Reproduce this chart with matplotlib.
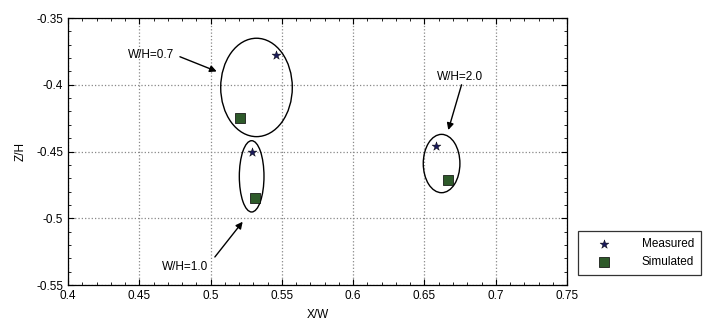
import matplotlib
matplotlib.use("Agg")
import matplotlib.pyplot as plt
from matplotlib.patches import Ellipse
from matplotlib.ticker import MultipleLocator

plt.rcParams['font.family'] = ['Liberation Sans', 'DejaVu Sans']

# Data
ratios = ["W/H=0.7", "W/H=1.0", "W/H=2.0"]
measured_x = [0.546, 0.529, 0.658]
measured_z = [-0.378, -0.450, -0.4456]
simulated_x = [0.5206, 0.531, 0.6667]
simulated_z = [-0.425, -0.4846, -0.4713]

ellipse_cx = [0.5322, 0.5288, 0.662]
ellipse_cz = [-0.402, -0.4686, -0.459]
ellipse_w = [0.0502, 0.0173, 0.0257]
ellipse_h = [0.0737, 0.0534, 0.0437]

label_x = [0.4582, 0.4824, 0.6749]
label_z = [-0.378, -0.5363, -0.394]
arrow_start_x = [0.4785, 0.503, 0.676]
arrow_start_z = [-0.379, -0.529, -0.400]
arrow_tip_x = [0.5043, 0.5225, 0.6667]
arrow_tip_z = [-0.390, -0.5026, -0.4339]

xticks = [0.4, 0.45, 0.5, 0.55, 0.6, 0.65, 0.7, 0.75]
yticks = [-0.55, -0.5, -0.45, -0.4, -0.35]
xtick_labels = ["0.4", "0.45", "0.5", "0.55", "0.6", "0.65", "0.7", "0.75"]
ytick_labels = ["-0.55", "-0.5", "-0.45", "-0.4", "-0.35"]

fig = plt.figure(figsize=(7.15, 3.23), dpi=100)
ax = fig.add_axes([0.0951, 0.1176, 0.698, 0.8266])

ax.set_xlim(0.4, 0.75)
ax.set_ylim(-0.55, -0.35)
ax.set_xticks(xticks)
ax.set_xticklabels(xtick_labels)
ax.set_yticks(yticks)
ax.set_yticklabels(ytick_labels)
ax.xaxis.set_minor_locator(MultipleLocator(0.01))
ax.yaxis.set_minor_locator(MultipleLocator(0.01))
ax.tick_params(which='both', direction='in', top=True, right=True, labelsize=8.5)
ax.tick_params(which='major', length=4)
ax.tick_params(which='minor', length=2)
ax.grid(True, which='major', linestyle=':', color='#888888', linewidth=0.9)
for s in ax.spines.values():
    s.set_linewidth(0.9)

ax.scatter(measured_x, measured_z, marker='*', s=45, color='#1a1a5a',
           edgecolor='black', linewidths=0.3, label='Measured', zorder=3)
ax.scatter(simulated_x, simulated_z, marker='s', s=50, color='#2e5a2a',
           edgecolor='black', linewidths=0.5, label='Simulated', zorder=3)

for cx, cz, w, h in zip(ellipse_cx, ellipse_cz, ellipse_w, ellipse_h):
    ax.add_patch(Ellipse((cx, cz), w, h, fill=False, edgecolor='black', linewidth=1.0, zorder=2))

for i, r in enumerate(ratios):
    ax.text(label_x[i], label_z[i], r, ha='center', va='center', fontsize=8.5)
    ax.annotate('', xy=(arrow_tip_x[i], arrow_tip_z[i]),
                xytext=(arrow_start_x[i], arrow_start_z[i]),
                arrowprops=dict(arrowstyle='-|>', color='black', lw=1.0,
                                mutation_scale=10, shrinkA=0, shrinkB=0))

ax.set_xlabel('X/W', fontsize=8.5, labelpad=5)
ax.set_ylabel('Z/H', fontsize=8.5, labelpad=7)

leg = fig.legend(loc='upper left', bbox_to_anchor=(578 / 715, 1 - 231 / 323),
                 fontsize=8.5, frameon=True, fancybox=False, edgecolor='black',
                 borderpad=0.6, handlelength=3.2, handletextpad=1.6, borderaxespad=0)
leg.get_frame().set_linewidth(0.9)

fig.savefig('out.png', dpi=100)
